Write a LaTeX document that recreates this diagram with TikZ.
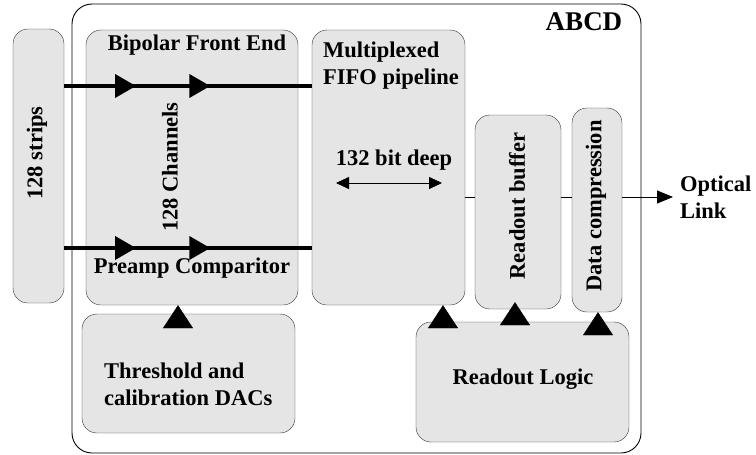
\documentclass[tikz,border=0pt]{standalone}
\usepackage{fontspec}
\setmainfont{Liberation Serif}
\usetikzlibrary{arrows.meta,positioning,decorations.markings}

\begin{document}
\begin{tikzpicture}[x=1pt,y=-1pt,
box/.style={draw=black!80,fill=black!10,rounded corners=15pt,inner sep=0pt},
lbl/.style={font=\bfseries\fontsize{22.5}{27}\selectfont,inner sep=0pt,align=center},
vlbl/.style={lbl,rotate=90},
bus/.style={line width=4pt,postaction={decorate},decoration={markings,
  mark=at position 0.29 with {\arrow{Triangle[length=21pt,width=23pt]}},
  mark=at position 0.59 with {\arrow{Triangle[length=21pt,width=23pt]}}}},
uptri/.style={-{Triangle[length=23pt,width=30pt]}},
thin/.style={line width=0.8pt}]
\useasboundingbox (0,0) rectangle (756,455);
% chip outline
\node[draw,rounded corners=20pt,line width=0.9pt,minimum width=569pt,minimum height=449pt] (abcd) at (356.5,228.5) {};
\node[lbl,font=\bfseries\fontsize{27}{30}\selectfont,below left=9pt and 19pt of abcd.north east] (abcdlbl) {ABCD};
% blocks
\node[box,minimum width=51pt,minimum height=274pt] (strips) at (38.5,166) {};
\node[box,minimum width=212pt,minimum height=275pt] (front) at (192,167.5) {};
\node[box,minimum width=153pt,minimum height=275pt] (fifo) at (388.5,167.5) {};
\node[box,minimum width=86pt,minimum height=194pt] (buffer) at (518,212) {};
\node[box,minimum width=50pt,minimum height=204pt] (compr) at (597,210) {};
\node[box,minimum width=213pt,minimum height=119pt] (thresh) at (188.5,373.5) {};
\node[box,minimum width=213pt,minimum height=120pt] (logic) at (522.5,382) {};
% labels
\node[vlbl] (stripslbl) at (37,153) {128 strips};
\node[lbl] (frontlbl) at (197,45) {Bipolar Front End};
\node[vlbl] (chanlbl) at (170,167) {128 Channels};
\node[lbl] (preamp) at (192,268) {Preamp Comparitor};
\node[lbl,align=left,anchor=west] (fifolbl) at (323,65.5) {Multiplexed\\FIFO pipeline};
\node[lbl] (depth) at (394,160) {132 bit deep};
\node[vlbl] (bufferlbl) at (517,206) {Readout buffer};
\node[vlbl] (comprlbl) at (596,206) {Data compression};
\node[lbl,align=left,anchor=west] (threshlbl) at (104,384.5) {Threshold and\\calibration DACs};
\node[lbl] (logiclbl) at (523,379) {Readout Logic};
% signal paths
\coordinate (ytop) at (0,86);
\coordinate (ybot) at (0,248);
\draw[bus] (strips.east |- ytop) -- (fifo.west |- ytop);
\draw[bus] (strips.east |- ybot) -- (fifo.west |- ybot);
\coordinate (dl) at (336,183);
\coordinate (dr) at (442,183);
\draw[thin,{Triangle[length=13pt,width=12pt]}-{Triangle[length=13pt,width=12pt]}] (dl) -- (dr);
\coordinate (olink) at (673,197);
\draw[thin] (fifo.east |- olink) -- (buffer.west |- olink);
\draw[thin] (buffer.east |- olink) -- (compr.west |- olink);
\draw[thin,-{Triangle[length=16pt,width=13pt]}] (compr.east |- olink) -- (olink);
\node[lbl,align=left,anchor=west,right=7pt of olink] (optical) {Optical\\Link};
% control arrows
\coordinate (a0) at (178,0);
\coordinate (a1) at (443,0);
\coordinate (a2) at (515,0);
\coordinate (a3) at (598,0);
\draw[uptri] (thresh.north -| a0) -- (front.south -| a0);
\draw[uptri] (logic.north -| a1) -- (fifo.south -| a1);
\draw[uptri,shorten >=-7pt] (logic.north -| a2) -- (buffer.south -| a2);
\draw[uptri] (logic.north -| a3) -- (compr.south -| a3);
\end{tikzpicture}
\end{document}
